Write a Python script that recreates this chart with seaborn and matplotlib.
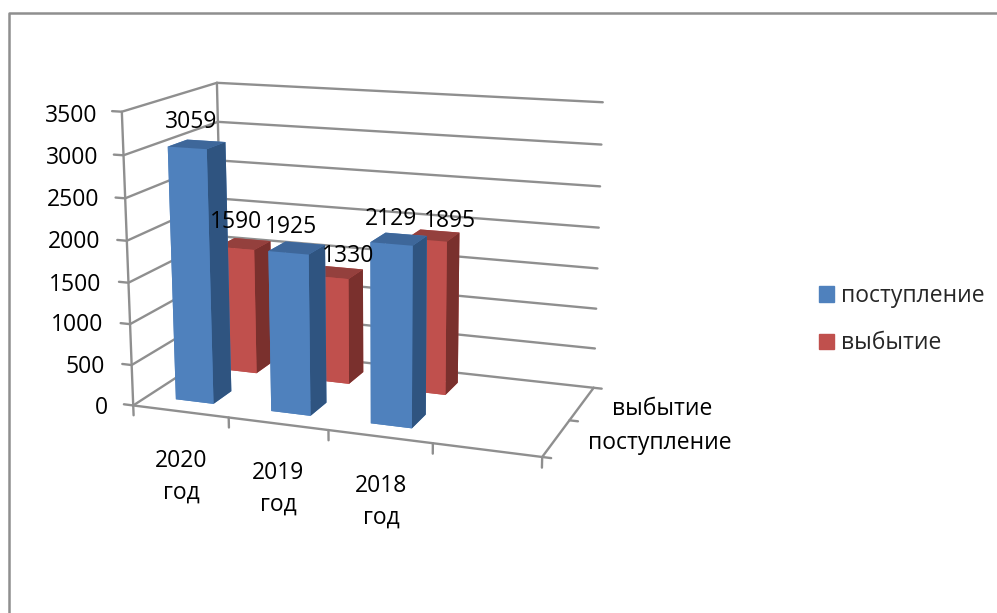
import matplotlib
matplotlib.use("Agg")
import matplotlib.pyplot as plt
from matplotlib.patches import Patch
from matplotlib.lines import Line2D
import seaborn as sns

# chart values
years = ["2020\nгод", "2019\nгод", "2018\nгод"]
series = ["поступление", "выбытие"]
incoming = [3059, 1925, 2129]
outgoing = [1590, 1330, 1895]
zticks = [0, 500, 1000, 1500, 2000, 2500, 3000, 3500]

# text positions in picture pixels
ztick_right = [108, 105, 103, 101, 100, 99, 98, 97]
ztick_y = [408, 367, 325, 285, 242, 200, 158, 116]
incoming_pos = [(191, 122), (291, 227), (391, 219)]
outgoing_pos = [(236, 222), (348, 256), (450, 221)]
year_pos = [(181, 477), (278, 489), (381, 502)]
depth_pos = [(660, 443), (662, 409)]

W, H = 997, 613
FS = 16.5

sns.set_theme(style="white")
plt.rcParams["font.family"] = ["Open Sans", "DejaVu Sans"]
palette = sns.color_palette(["#4F81BD", "#C0504D"])
grey = "#8F8F8F"

# faces: bottom, top, front, back, left, right
blue = [palette[0], "#3E679A", palette[0], palette[0], palette[0], "#2F5480"]
red = [palette[1], "#94403D", palette[1], palette[1], palette[1], "#7A302D"]

fig = plt.figure(figsize=(W / 100, H / 100), dpi=100)
# camera and box were fitted to the corners of the floor and walls in the picture
ax = fig.add_axes([0.0879, 0.1294, 0.5446, 0.8858], projection="3d")
ax.set_xlim(0, 1)
ax.set_ylim(0, 1)
ax.set_zlim(0, 1)
ax.view_init(13.8903, -69.5768, 0.1657)
ax.set_proj_type("persp", focal_length=0.5609)
ax.set_box_aspect((1.2876, 0.6471, 0.908))
ax.set_axis_off()
ax.computed_zorder = False


def line(xs, ys, zs):
    ax.plot(xs, ys, zs, color=grey, lw=1.7, zorder=1)


# walls, floor and ticks
for z in zticks:
    t = z / zticks[-1]
    line([-0.025, 0, 0], [0, 0, 1], [t, t, t])
    line([0, 1], [1, 1], [t, t])
line([0, 0], [0, 0], [0, 1])
line([0, 0], [1, 1], [0, 1])
line([0, 1, 1], [0, 0, 1], [0, 0, 0])
ncat = len(years) + 1  # the category axis has one empty slot at the end
for k in range(ncat + 1):
    line([k / ncat, k / ncat], [0, 0], [0, -0.035])
for k in range(3):
    line([1, 1.02], [k / 2, k / 2], [0, 0])


def draw(values, ymid, cols, zo):
    for i, v in enumerate(values):
        ax.bar3d((i + 0.3) / ncat, ymid - 0.1, 0, 0.4 / ncat, 0.2, v / zticks[-1],
                 color=cols, shade=False, linewidth=0, zorder=zo + i)


draw(outgoing, 0.75, red, 5)
draw(incoming, 0.25, blue, 10)


def label(x, y, s, ha="center", **kw):
    fig.text(x / W, 1 - y / H, s, ha=ha, va="center", fontsize=FS, color="black", **kw)


for z, r, y in zip(zticks, ztick_right, ztick_y):
    label(r, y, str(z), ha="right")
for v, (x, y) in zip(incoming + outgoing, incoming_pos + outgoing_pos):
    label(x, y, str(v))
for s, (x, y) in zip(years, year_pos):
    label(x, y, s, linespacing=1.4)
for s, (x, y) in zip(series, depth_pos):
    label(x, y, s)

# legend
handles = [Patch(color=c, label=s) for c, s in zip(palette, series)]
fig.legend(handles=handles, loc="upper left", bbox_to_anchor=(819 / W, 1 - 284 / H),
           frameon=False, borderpad=0, borderaxespad=0, fontsize=FS,
           handlelength=0.66, handleheight=0.66, handletextpad=0.3, labelspacing=1.02)

# chart area border, cut by the picture on the right and at the bottom
fig.add_artist(Line2D([9 / W, 9 / W, 1], [0, 1 - 13 / H, 1 - 13 / H], color=grey, lw=1.8))

fig.savefig("out.png", dpi=100)
